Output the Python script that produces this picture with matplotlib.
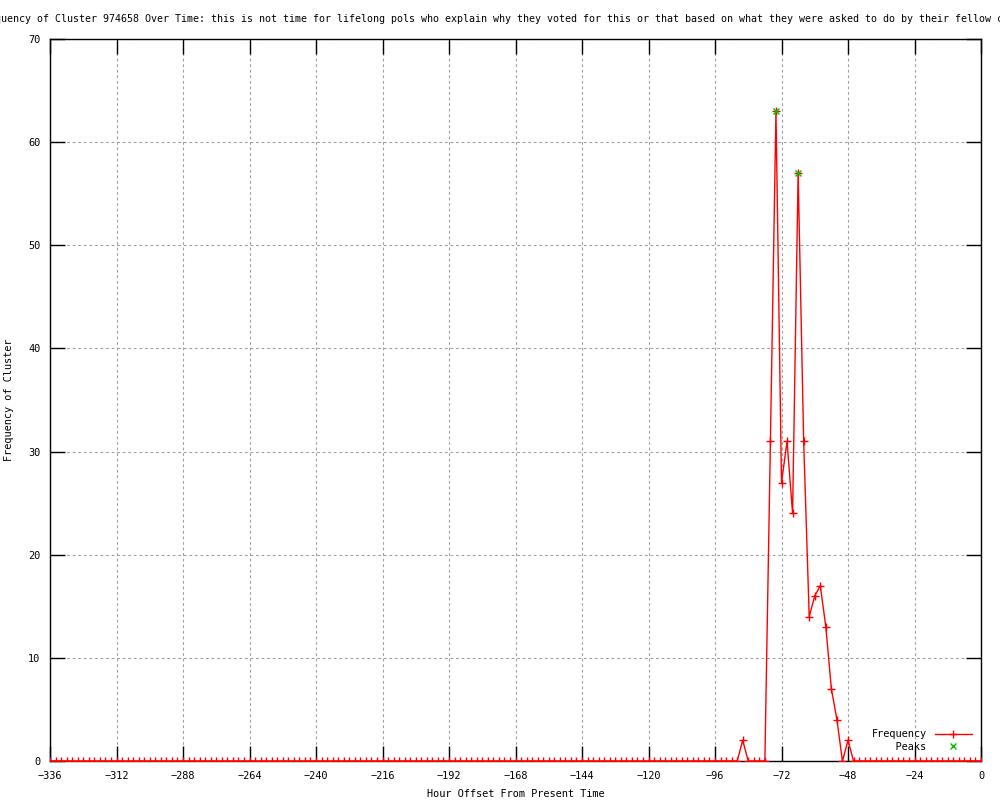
import matplotlib
matplotlib.use("Agg")
import matplotlib.pyplot as plt

# hours before now, every 2 hours
hours = list(range(-336, 1, 2))
freq = [0] * 125 + [2, 0, 0, 0, 0,
                    31, 63, 27, 31, 24, 57, 31, 14, 16, 17, 13, 7, 4, 0, 2] + [0] * 24
peak_hours = [-74, -66]
peak_values = [63, 57]

x_ticks = list(range(-336, 1, 24))
y_ticks = [0, 10, 20, 30, 40, 50, 60, 70]

title = ("Frequency of Cluster 974658 Over Time: this is not time for lifelong pols "
         "who explain why they voted for this or that based on what they were asked "
         "to do by their fellow citizens")

plt.rcParams['font.family'] = 'DejaVu Sans Mono'
plt.rcParams['font.size'] = 7.4

fig = plt.figure(figsize=(10, 8), dpi=100)
ax = fig.add_axes([0.05, 0.04875, 0.931, 0.9025])

ax.plot(hours, freq, color='red', lw=1.0, marker='+', ms=6, mew=1.0,
        label='Frequency', zorder=3)
ax.plot(peak_hours, peak_values, ls='none', marker='x', ms=5, mew=1.0,
        color='#00c000', label='    Peaks', zorder=4)

ax.set_xlim(-336, 0)
ax.set_ylim(0, 70)
ax.set_xticks(x_ticks)
ax.set_yticks(y_ticks)
ax.tick_params(direction='in', length=11, width=1, top=True, right=True,
               labeltop=False, labelright=False, pad=7)
ax.grid(True, color='#a0a0a0', lw=0.8, ls=(0, (2.5, 2.5)))
for s in ax.spines.values():
    s.set_linewidth(1)

ax.set_xlabel('Hour Offset From Present Time', labelpad=6)
ax.set_ylabel('Frequency of Cluster', labelpad=10)

# title is wider than the canvas, cut on both sides like the original
fig.text(-0.023, 1 - 19 / 800, title, ha='left', va='center', fontsize=7.2)

ax.legend(loc='lower right', bbox_to_anchor=(1.0, 0.0), markerfirst=False,
          frameon=False, handlelength=3.6, handletextpad=0.8, labelspacing=0.25,
          borderaxespad=0.5)

fig.savefig('out.png', dpi=100)
